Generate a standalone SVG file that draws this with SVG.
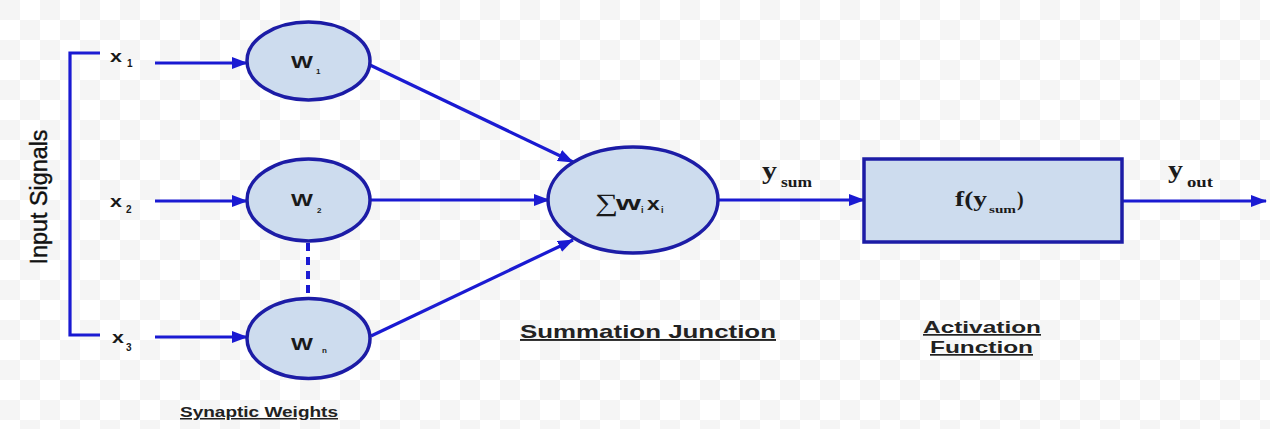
<svg xmlns="http://www.w3.org/2000/svg" width="1270" height="429" viewBox="0 0 1270 429">
<defs>
<pattern id="chk" width="40" height="40" patternUnits="userSpaceOnUse">
<rect width="40" height="40" fill="#ffffff"/>
<rect x="0" y="0" width="20" height="20" fill="#f5f5f5"/>
<rect x="20" y="20" width="20" height="20" fill="#f5f5f5"/>
</pattern>
<marker id="arr" markerUnits="userSpaceOnUse" markerWidth="16" markerHeight="12" refX="15" refY="6" orient="auto">
<path d="M0,0 L16,6 L0,12 z" fill="#1a1ad2"/>
</marker>
</defs>
<style>
.ln{stroke:#1a1ad2;stroke-width:3.2;fill:none}
.nd{fill:#cddcee;stroke:#1c1ca6;stroke-width:3.5}
.s{font-family:"Liberation Sans",Arial,sans-serif;font-weight:bold;fill:#1a1a1a}
.r{font-family:"Liberation Serif","Times New Roman",serif;font-weight:bold;fill:#1a1a1a}
.cap{font-family:"Liberation Sans",Arial,sans-serif;font-weight:bold;fill:#222;text-decoration:underline}
</style>
<rect width="1270" height="429" fill="url(#chk)"/>

<g id="connectors">
<path class="ln" d="M100,53 H70 V335 H100"/>
<line class="ln" x1="155" y1="63" x2="247" y2="63" marker-end="url(#arr)"/>
<line class="ln" x1="155" y1="201" x2="247" y2="201" marker-end="url(#arr)"/>
<line class="ln" x1="155" y1="337" x2="247" y2="337" marker-end="url(#arr)"/>
<line class="ln" x1="370" y1="65" x2="573" y2="162" marker-end="url(#arr)"/>
<line class="ln" x1="370" y1="200" x2="549" y2="200" marker-end="url(#arr)"/>
<line class="ln" x1="371" y1="336" x2="573" y2="240" marker-end="url(#arr)"/>
<line class="ln" x1="718" y1="200" x2="864" y2="200" marker-end="url(#arr)"/>
<line class="ln" x1="1122" y1="201" x2="1266" y2="201" marker-end="url(#arr)"/>
<line x1="308" y1="243" x2="308" y2="298" stroke="#1a1ad2" stroke-width="4" stroke-dasharray="8,6"/>
</g>

<g id="input-signals">
<text transform="translate(47,197) rotate(-90)" text-anchor="middle" font-family="'Liberation Sans',Arial,sans-serif" font-size="23" fill="#111" stroke="#111" stroke-width="0.4" textLength="135" lengthAdjust="spacingAndGlyphs">Input Signals</text>
</g>

<g id="x1">
<text class="s" transform="translate(110,62) scale(1.26,1)" font-size="17">x</text>
<text class="s" x="127" y="67" font-size="10">1</text>
</g>
<g id="x2">
<text class="s" transform="translate(110,207) scale(1.26,1)" font-size="17">x</text>
<text class="s" x="126" y="213" font-size="10">2</text>
</g>
<g id="x3">
<text class="s" transform="translate(112,343) scale(1.26,1)" font-size="17">x</text>
<text class="s" x="126" y="351" font-size="10">3</text>
</g>

<g id="w1">
<ellipse class="nd" cx="308.5" cy="61" rx="61.5" ry="39"/>
<text class="s" transform="translate(291,68) scale(1.45,1)" font-size="16">W</text>
<text class="s" x="316" y="74" font-size="8">1</text>
</g>
<g id="w2">
<ellipse class="nd" cx="308.5" cy="200" rx="61.5" ry="41"/>
<text class="s" transform="translate(291,206) scale(1.45,1)" font-size="16">W</text>
<text class="s" x="317" y="213" font-size="8">2</text>
</g>
<g id="wn">
<ellipse class="nd" cx="308.5" cy="338.5" rx="61.5" ry="40"/>
<text class="s" transform="translate(291,350) scale(1.45,1)" font-size="16">W</text>
<text class="s" x="322" y="353" font-size="8">n</text>
</g>

<g id="sum">
<ellipse class="nd" cx="633" cy="200" rx="85" ry="53"/>
<text transform="translate(595,211) scale(1.3,1)" font-family="'Liberation Serif','Times New Roman',serif" font-size="25" fill="#1a1a1a">∑</text>
<text class="s" transform="translate(616,210) scale(1.6,1)" font-size="20">w</text>
<text class="s" x="641" y="213" font-size="9">i</text>
<text class="s" transform="translate(647,210) scale(1.2,1)" font-size="19">x</text>
<text class="s" x="661" y="213" font-size="9">i</text>
</g>

<g id="ysum">
<text class="r" transform="translate(762,179) scale(1.2,1)" font-size="25">y</text>
<text class="r" x="781" y="187" font-size="14" textLength="31" lengthAdjust="spacingAndGlyphs">sum</text>
</g>

<g id="activation">
<rect x="864" y="159" width="258" height="83" fill="#cddcee" stroke="#1c1ca6" stroke-width="3.5"/>
<text class="r" x="955" y="206" font-size="20" textLength="32" lengthAdjust="spacingAndGlyphs">f(y</text>
<text class="r" x="989" y="213" font-size="10" textLength="27" lengthAdjust="spacingAndGlyphs">sum</text>
<text class="r" x="1017" y="206" font-size="20">)</text>
</g>

<g id="yout">
<text class="r" transform="translate(1168,178) scale(1.2,1)" font-size="25">y</text>
<text class="r" x="1187" y="187" font-size="14" textLength="26" lengthAdjust="spacingAndGlyphs">out</text>
</g>

<g id="captions">
<text class="cap" x="520" y="338" font-size="19" textLength="256" lengthAdjust="spacingAndGlyphs">Summation Junction</text>
<text class="cap" x="923" y="333" font-size="17" textLength="118" lengthAdjust="spacingAndGlyphs">Activation</text>
<text class="cap" x="930" y="353" font-size="17" textLength="103" lengthAdjust="spacingAndGlyphs">Function</text>
<text class="cap" x="180" y="417" font-size="15" textLength="158" lengthAdjust="spacingAndGlyphs">Synaptic Weights</text>
</g>
</svg>
